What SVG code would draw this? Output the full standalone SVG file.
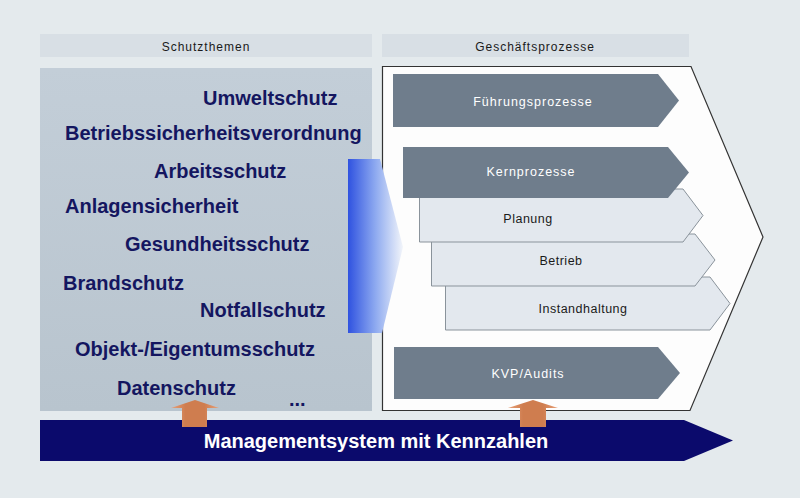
<svg xmlns="http://www.w3.org/2000/svg" width="800" height="498" viewBox="0 0 800 498">
<defs>
<linearGradient id="leftPanel" x1="0" y1="0" x2="0" y2="1">
<stop offset="0" stop-color="#c3ced8"/>
<stop offset="1" stop-color="#b8c4ce"/>
</linearGradient>
<linearGradient id="blueGrad" x1="0" y1="0" x2="1" y2="0">
<stop offset="0" stop-color="#2f52e0"/>
<stop offset="0.5" stop-color="#8eaaf0"/>
<stop offset="1" stop-color="#f2f5fa"/>
</linearGradient>
<linearGradient id="orangeGrad" x1="0" y1="0" x2="1" y2="0">
<stop offset="0" stop-color="#e8a27a"/>
<stop offset="0.3" stop-color="#cf7d4f"/>
<stop offset="0.7" stop-color="#cf7d4f"/>
<stop offset="1" stop-color="#e8a27a"/>
</linearGradient>
<style>
.hdr{fill:#d8dfe5}
.hdrtxt{font-family:"Liberation Sans",Arial,sans-serif;font-size:12px;letter-spacing:1px;fill:#1a1a1a;text-anchor:middle}
.topic{font-family:"Liberation Sans",Arial,sans-serif;font-size:20px;font-weight:bold;fill:#141660}
.dark{fill:#6f7d8c}
.light{fill:#e3e8ee;stroke:#8a939b;stroke-width:1}
.wt{font-family:"Liberation Sans",Arial,sans-serif;font-size:12.5px;letter-spacing:1px;fill:#ffffff;text-anchor:middle}
.bt{font-family:"Liberation Sans",Arial,sans-serif;font-size:12.5px;letter-spacing:0.5px;fill:#1a1a1a;text-anchor:middle}
.up{fill:url(#orangeGrad)}
</style>
</defs>
<rect x="0" y="0" width="800" height="498" fill="#e4eaed"/>

<g id="header-schutzthemen">
<rect class="hdr" x="40" y="34" width="332" height="23"/>
<text class="hdrtxt" x="206" y="51">Schutzthemen</text>
</g>
<g id="header-geschaeftsprozesse">
<rect class="hdr" x="382" y="34" width="307" height="23"/>
<text class="hdrtxt" x="535" y="51">Geschäftsprozesse</text>
</g>

<g id="schutzthemen">
<rect x="40" y="68" width="332" height="343" fill="url(#leftPanel)"/>
<text class="topic" x="203" y="105">Umweltschutz</text>
<text class="topic" x="65" y="140">Betriebssicherheitsverordnung</text>
<text class="topic" x="154" y="178">Arbeitsschutz</text>
<text class="topic" x="65" y="213">Anlagensicherheit</text>
<text class="topic" x="125" y="251">Gesundheitsschutz</text>
<text class="topic" x="63" y="290">Brandschutz</text>
<text class="topic" x="200" y="317">Notfallschutz</text>
<text class="topic" x="75" y="356">Objekt-/Eigentumsschutz</text>
<text class="topic" x="117" y="395">Datenschutz</text>
<text class="topic" x="289" y="406">...</text>
</g>

<g id="geschaeftsprozesse">
<polygon points="382.5,66.5 691,66.5 763,237 690,410.5 382.5,410.5" fill="#fdfdfd" stroke="#333" stroke-width="1.2"/>
</g>

<g id="fuehrungsprozesse">
<polygon class="dark" points="393,74 658,74 679,100.5 658,127 393,127"/>
<text class="wt" x="533" y="106">Führungsprozesse</text>
</g>
<g id="instandhaltung">
<polygon class="light" points="445.5,277 710,277 730,303.5 710,330 445.5,330"/>
<text class="bt" x="583" y="313">Instandhaltung</text>
</g>
<g id="betrieb">
<polygon class="light" points="431.5,234 695,234 715,260 695,286 431.5,286"/>
<text class="bt" x="561" y="265">Betrieb</text>
</g>
<g id="planung">
<polygon class="light" points="419.5,189 683,189 703,215.5 683,242 419.5,242"/>
<text class="bt" x="528" y="223">Planung</text>
</g>
<g id="kernprozesse">
<polygon class="dark" points="403,147 668,147 689,172.5 668,198 403,198"/>
<text class="wt" x="531" y="176">Kernprozesse</text>
</g>
<g id="kvp-audits">
<polygon class="dark" points="394,347 658,347 680,373 658,399 394,399"/>
<text class="wt" x="528" y="378">KVP/Audits</text>
</g>

<g id="connectors">
<polygon points="348,159 380,159 403,247 382,333 348,333" fill="url(#blueGrad)"/>
</g>

<g id="managementsystem">
<polygon points="40,420 684,420 733,440.5 684,461 40,461" fill="#0b0a6c"/>
<polygon class="up" points="182,427 182,408 171,408 195,400 219,408 207,408 207,427"/>
<polygon class="up" points="520,427 520,408 508,408 533,400 558,408 546,408 546,427"/>
<text x="376" y="448" font-family="'Liberation Sans',Arial,sans-serif" font-size="20" font-weight="bold" fill="#ffffff" text-anchor="middle">Managementsystem mit Kennzahlen</text>
</g>
</svg>
